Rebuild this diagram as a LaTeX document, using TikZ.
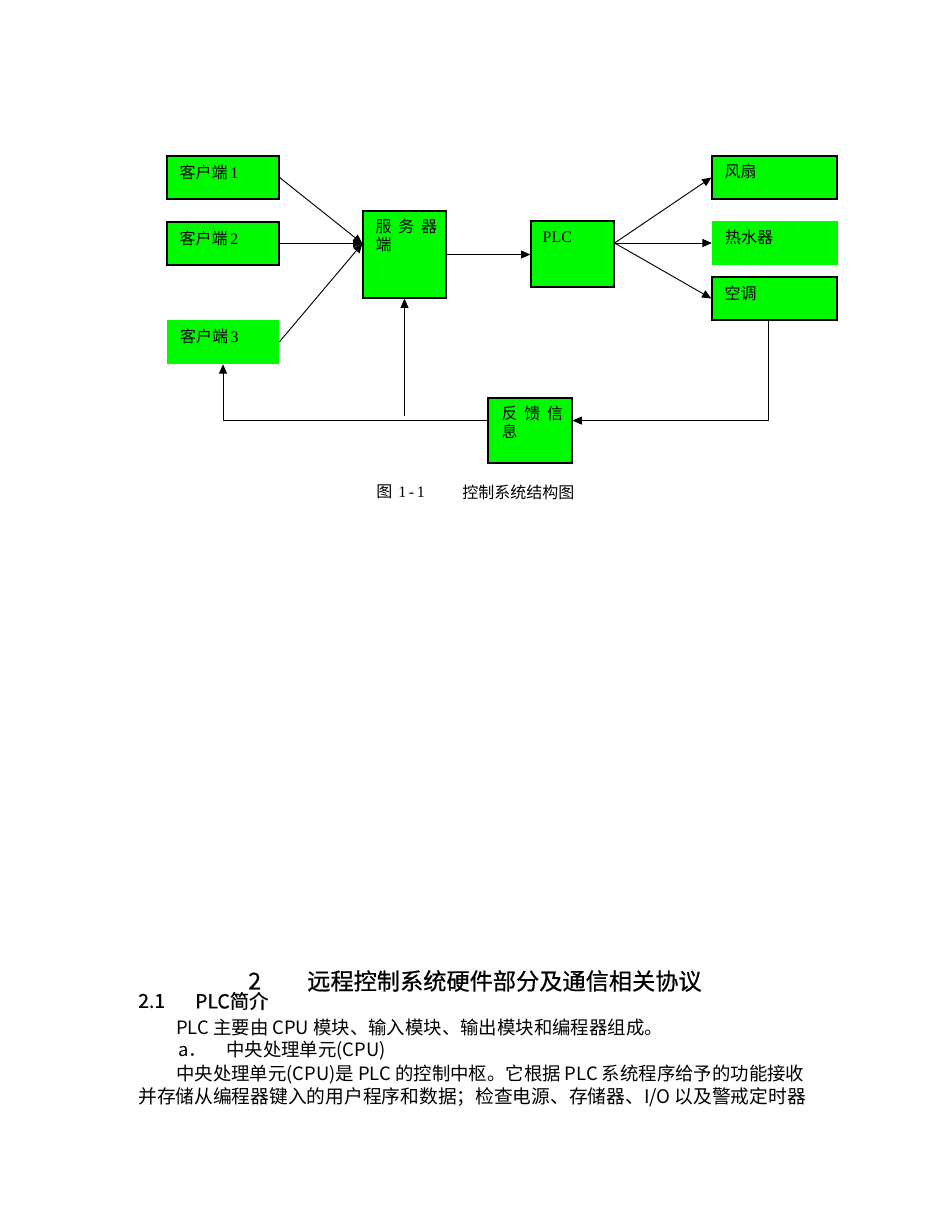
\documentclass[tikz,border=0pt]{standalone}
\usepackage{fontspec}
\setmainfont{Liberation Serif}
\newfontfamily\cjk{Noto Sans CJK SC}
\newfontfamily\cjkb[FakeBold=0.6]{Noto Sans CJK SC}
\usetikzlibrary{arrows.meta,fit,calc}
\definecolor{boxgreen}{RGB}{0,250,0}
\begin{document}
\begin{tikzpicture}[x=0.75pt,y=-0.75pt,
  box/.style={fill=boxgreen,draw=black,line width=0.9pt,inner sep=0pt},
  nbox/.style={fill=boxgreen,draw=none,inner sep=0pt},
  lbl/.style={anchor=west,inner sep=0pt,font=\fontsize{12pt}{13.5pt}\selectfont},
  lbl2/.style={anchor=north west,inner sep=0pt,align=left,font=\fontsize{12pt}{13.5pt}\selectfont},
  arr/.style={line width=0.7pt,-{Triangle[length=7pt,width=6pt]}},
  txt/.style={anchor=west,inner sep=0pt},
  body/.style={txt,font=\cjk\fontsize{13.8pt}{16pt}\selectfont}]
\useasboundingbox[fill=white] (0,0) rectangle (950,1230);
% boxes
\node[box,fit={(167,156)(279,199)}] (c1) {};
\node[box,fit={(167,222)(279,265)}] (c2) {};
\node[nbox,fit={(167,320)(279,364)}] (c3) {};
\node[box,fit={(363,211)(446,298)}] (srv) {};
\node[box,fit={(531,221)(614,287)}] (plc) {};
\node[box,fit={(712,156)(837,199)}] (fan) {};
\node[nbox,fit={(712,221)(838,265)}] (hw) {};
\node[box,fit={(712,277)(837,320)}] (ac) {};
\node[box,fit={(488,398)(572,463)}] (fb) {};
% box texts
\node[lbl] (tc1) at ($(c1.north west)+(13,16.5)$) {{\cjk 客户端}\,1};
\node[lbl] (tc2) at ($(c2.north west)+(13,16.5)$) {{\cjk 客户端}\,2};
\node[lbl] (tc3) at ($(c3.north west)+(13,17)$) {{\cjk 客户端}\,3};
\node[lbl2] (tsrv) at ($(srv.north west)+(13,8)$) {{\cjk 服\hspace{5pt}务\hspace{5pt}器}\\{\cjk 端}};
\node[lbl] (tplc) at ($(plc.north west)+(12,16.5)$) {PLC};
\node[lbl] (tfan) at ($(fan.north west)+(13,16.5)$) {\cjk 风扇};
\node[lbl] (thw) at ($(hw.north west)+(13,17)$) {\cjk 热水器};
\node[lbl] (tac) at ($(ac.north west)+(13,17)$) {\cjk 空调};
\node[lbl2] (tfb) at ($(fb.north west)+(14,8)$) {{\cjk 反\hspace{5pt}馈\hspace{5pt}信}\\{\cjk 息}};
% connectors
\coordinate (sin) at (srv.west |- c2.east);
\draw[arr] (c1.east) -- (sin);
\draw[arr] (c2.east) -- (sin);
\draw[arr] (c3.east) -- (sin);
\draw[arr] (srv.east) -- (plc.west |- srv.east);
\coordinate (pout) at (plc.east |- hw.west);
\draw[arr] (pout) -- (fan.west);
\draw[arr] (pout) -- (hw.west);
\draw[arr] (pout) -- (ac.west);
\coordinate (acb) at ($(ac.south)+(-6.5,0)$);
\coordinate (k1) at ($(acb)+(0,100)$);
\draw[arr] (acb) -- (k1) -- (fb.east |- k1);
\draw[arr] (fb.west |- k1) -| (c3.south);
\coordinate (sb) at ($(srv.south |- k1)+(0,-5)$);
\draw[arr] (sb) -- (srv.south);
% caption
\node[txt,font=\cjk\fontsize{12pt}{14pt}\selectfont] (cap1) at (376,492) {图};
\node[txt,font=\fontsize{12pt}{14pt}\selectfont] (cap2) at (398,492) {1\,-\,1};
\node[txt,font=\cjk\fontsize{12pt}{14pt}\selectfont] (cap3) at (462,492) {控制系统结构图};
% text below
\node[txt,font=\cjkb\fontsize{17.4pt}{19pt}\selectfont] (h1) at (248,981) {2};
\node[txt,font=\cjkb\fontsize{17.4pt}{19pt}\selectfont] (h2) at (307,981) {远程控制系统硬件部分及通信相关协议};
\node[txt,font=\cjkb\fontsize{14.5pt}{16pt}\selectfont] (h3) at (138,1001) {2.1};
\node[txt,font=\cjkb\fontsize{14.5pt}{16pt}\selectfont] (h4) at (195,1001) {PLC简介};
\node[body] (p1) at (176,1028) {PLC 主要由 CPU 模块、输入模块、输出模块和编程器组成。};
\node[body] (p2a) at (178,1051) {a．};
\node[body] (p2b) at (226,1051) {中央处理单元(CPU)};
\node[body] (p3) at (176,1074) {中央处理单元(CPU)是 PLC 的控制中枢。它根据 PLC 系统程序给予的功能接收};
\node[body,font=\cjk\fontsize{14.05pt}{16pt}\selectfont] (p4) at (138,1097) {并存储从编程器键入的用户程序和数据；检查电源、存储器、I/O 以及警戒定时器};
\end{tikzpicture}
\end{document}
